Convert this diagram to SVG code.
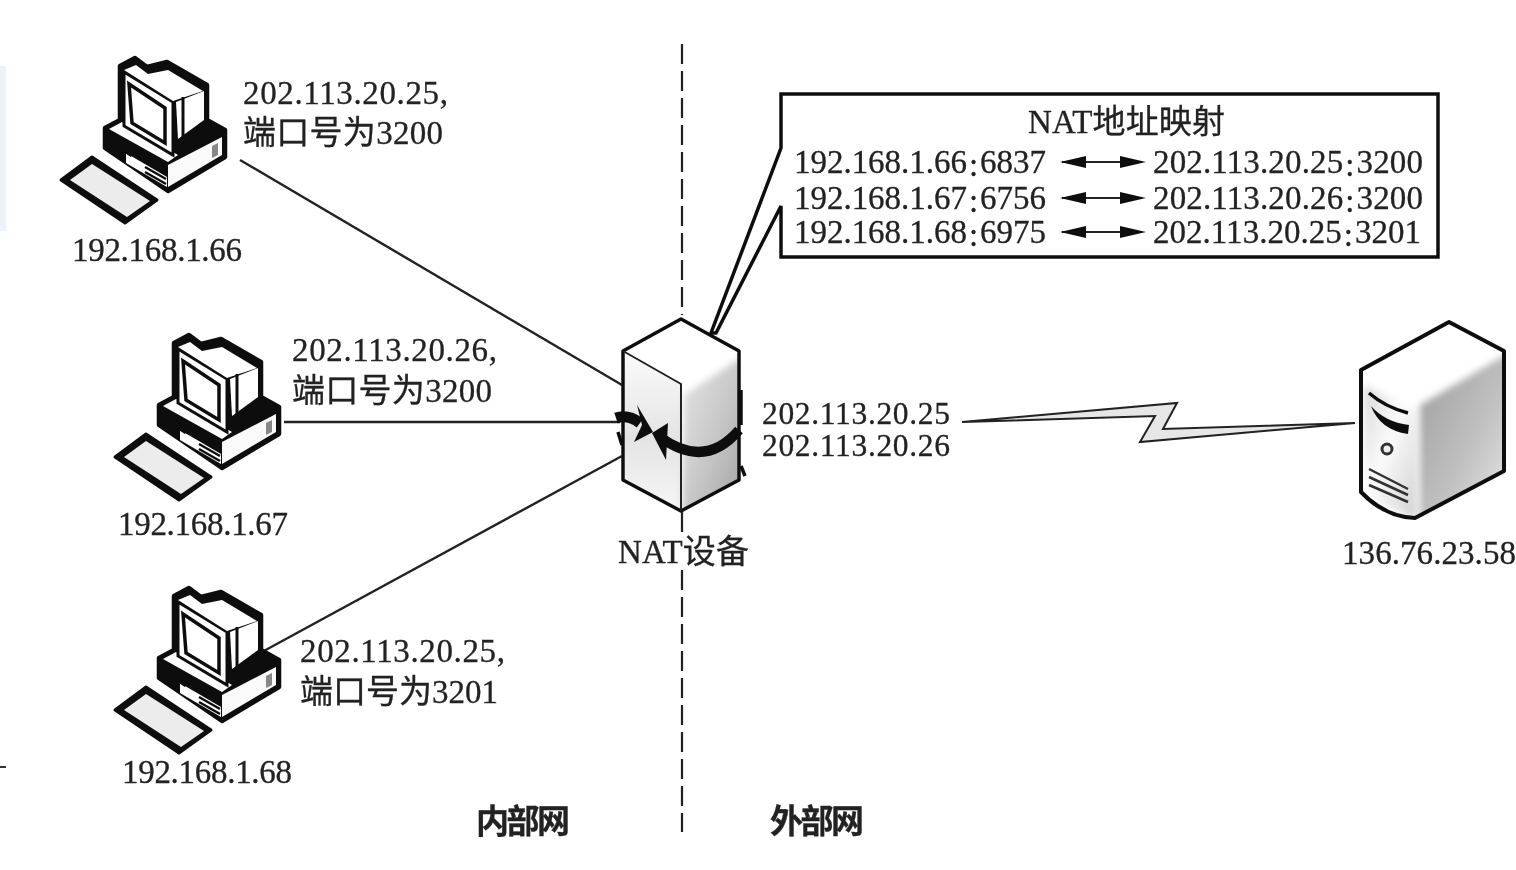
<svg xmlns="http://www.w3.org/2000/svg" width="1516" height="870" viewBox="0 0 1516 870">
<style>
text{font-family:"Liberation Serif","Noto Sans CJK SC",serif;font-size:33px;fill:#222;stroke:#222;stroke-width:.3}
.ln{fill:none;stroke:#222;stroke-width:2.4}
.wan{font-size:31.5px}
.b{font-weight:bold}
</style>
<defs>
<linearGradient id="gL" x1="0" y1="0" x2="1" y2="1"><stop offset="0" stop-color="#d8d8d8"/><stop offset=".45" stop-color="#fbfbfb"/><stop offset="1" stop-color="#cfcfcf"/></linearGradient>
<linearGradient id="gR" x1="0" y1="0" x2="1" y2="1"><stop offset="0" stop-color="#e6e6e6"/><stop offset=".5" stop-color="#c8c8c8"/><stop offset="1" stop-color="#9d9d9d"/></linearGradient>
<linearGradient id="gS" x1="0" y1="0" x2="1" y2="1"><stop offset="0" stop-color="#9c9c9c"/><stop offset=".55" stop-color="#c0c0c0"/><stop offset="1" stop-color="#ececec"/></linearGradient>
<linearGradient id="gF" x1="0" y1="0" x2="0" y2="1"><stop offset="0" stop-color="#fafafa"/><stop offset=".55" stop-color="#e4e4e4"/><stop offset="1" stop-color="#f6f6f6"/></linearGradient>
<filter id="soft" x="-5%" y="-5%" width="110%" height="110%"><feGaussianBlur stdDeviation="0.7"/></filter>
<filter id="wide" x="-20%" y="-20%" width="140%" height="140%"><feGaussianBlur stdDeviation="3.5"/></filter>
<clipPath id="natClip"><path d="M623 351L681 319L739 351V480L681 511L623 480Z"/></clipPath>
<clipPath id="srvClip"><path d="M1361 370L1449 322L1504 351L1504 471L1415 518Q1385 517 1361 492Z"/></clipPath>
<g id="pc">
<path fill="#111" stroke="#111" stroke-width="4.5" stroke-linejoin="round" d="M105 128V148L168 191L225 157V130L207 120V85L167 62L147 67L135 58L120 66V120Z"/>
<path d="M168 165L222 137V155L168 187Z" fill="#fafafa"/>
<path d="M212 146L218 143V155L212 158Z" fill="#888"/>
<path d="M109 129L122 122L178 155L168 162Z" fill="#fff"/>
<path d="M126 153L167 177V187L126 163Z" fill="#fff"/>
<path d="M130 150L124 146V151L130 155ZM145 167L166 179M145 172L166 184" fill="none" stroke="#111" stroke-width="2.5"/>
<path d="M124 72L173 102V155L124 126Z" fill="#fff" stroke="#111" stroke-width="3"/>
<path d="M129 84L165 108V143L132 123Z" fill="#fff" stroke="#111" stroke-width="3.5"/>
<path d="M124 70L136 65L148 74L168 70L203 91L173 101Z" fill="#fff"/>
<path d="M176 102L204 91V120L178 139Z" fill="#fff"/>
<path d="M183 97V138" stroke="#111" stroke-width="3"/>
<path d="M61 180L92 157L157 200L125 223Z" fill="#111" stroke="#111" stroke-width="3" stroke-linejoin="round"/>
<path d="M70 180L92 164L150 201L127 217Z" fill="#ececec"/>
</g>
</defs>
<g filter="url(#soft)">
<rect x="0" y="66" width="6" height="165" fill="#eef2f8"/>
<path d="M0 767H6" stroke="#333" stroke-width="2"/>
<g id="connectors">
<path class="ln" d="M240 160L622 385"/>
<path class="ln" d="M284 422H620"/>
<path class="ln" d="M262 652L622 456"/>
<path d="M962 422L1177 403L1163 429L1355 423L1140 442L1155 416Z" fill="#e6e6e6" stroke="#222" stroke-width="2" stroke-linejoin="miter"/>
<path d="M682 44V315M682 570V832" fill="none" stroke="#222" stroke-width="2.2" stroke-dasharray="20 7"/>
<path d="M682 511V532" fill="none" stroke="#222" stroke-width="2.2"/>
</g>
<g id="pc-66"><use href="#pc"/><text x="72" y="261" textLength="170">192.168.1.66</text></g>
<g id="pc-67"><use href="#pc" transform="translate(54 277)"/><text x="118" y="535" textLength="170">192.168.1.67</text></g>
<g id="pc-68"><use href="#pc" transform="translate(54 530)"/><text x="122" y="783" textLength="170">192.168.1.68</text></g>
<g id="label-1"><text x="243" y="104" textLength="205">202.113.20.25,</text><text x="243" y="144" textLength="200">端口号为3200</text></g>
<g id="label-2"><text x="292" y="361" textLength="205">202.113.20.26,</text><text x="292" y="402" textLength="200">端口号为3200</text></g>
<g id="label-3"><text x="300" y="662" textLength="205">202.113.20.25,</text><text x="300" y="703" textLength="198">端口号为3201</text></g>
<g id="nat-callout">
<path d="M781 94H1438V257H781V206L716 333L711 333L781 148Z" fill="#fff" stroke="#111" stroke-width="3.5" stroke-linejoin="miter"/>
<path d="M1062 162H1142M1062 198H1142M1062 232H1142" stroke="#222" stroke-width="2"/>
<path d="M1060 162l26 -6v12ZM1146 162l-26 -6v12ZM1060 198l26 -6v12ZM1146 198l-26 -6v12ZM1060 232l26 -6v12ZM1146 232l-26 -6v12Z" fill="#111"/>
<text x="1028" y="133" textLength="197">NAT地址映射</text>
<text x="794" y="173" textLength="252">192.168.1.66<tspan dx="2" dy="3">:</tspan><tspan dx="2" dy="-3">6837</tspan></text>
<text x="794" y="209" textLength="252">192.168.1.67<tspan dx="2" dy="3">:</tspan><tspan dx="2" dy="-3">6756</tspan></text>
<text x="794" y="243" textLength="252">192.168.1.68<tspan dx="2" dy="3">:</tspan><tspan dx="2" dy="-3">6975</tspan></text>
<text x="1153" y="173" textLength="270">202.113.20.25<tspan dx="2" dy="3">:</tspan><tspan dx="2" dy="-3">3200</tspan></text>
<text x="1153" y="209" textLength="270">202.113.20.26<tspan dx="2" dy="3">:</tspan><tspan dx="2" dy="-3">3200</tspan></text>
<text x="1153" y="243" textLength="268">202.113.20.25<tspan dx="2" dy="3">:</tspan><tspan dx="2" dy="-3">3201</tspan></text>
</g>
<g id="nat-device">
<path d="M623 351L681 319L739 351V480L681 511L623 480Z" fill="#fff"/>
<g clip-path="url(#natClip)">
<path d="M625 354L680 384V510L625 479Z" fill="url(#gF)"/>
<path d="M684 395L745 355V500L682 520Z" fill="url(#gR)" filter="url(#wide)"/>
</g>
<path d="M623 351L681 319L739 351V480L681 511L623 480Z" fill="none" stroke="#111" stroke-width="3.5" stroke-linejoin="round"/>
<path d="M623 351L681 384V511" fill="none" stroke="#222" stroke-width="2"/>
<path d="M616 418Q628 414 640 423" fill="none" stroke="#111" stroke-width="11"/>
<path d="M637 405L653 432L634 442L642 425Z" fill="#111"/>
<path d="M652 433L668 423L666 460Z" fill="#111"/>
<path d="M660 437Q705 470 739 430" fill="none" stroke="#111" stroke-width="10"/>
<path d="M741 390V425M618 432L622 445M741 466L745 476" fill="none" stroke="#111" stroke-width="3.5"/>
<text x="618" y="563" textLength="131">NAT设备</text>
</g>
<g id="wan-label"><text class="wan" x="762" y="424" textLength="188">202.113.20.25</text><text class="wan" x="762" y="456" textLength="188">202.113.20.26</text></g>
<g id="server">
<path d="M1361 370L1449 322L1504 351L1504 471L1415 518Q1385 517 1361 492Z" fill="#fff"/>
<g clip-path="url(#srvClip)">
<path d="M1364 385L1417 410V520L1364 495Z" fill="url(#gL)" filter="url(#wide)"/>
<path d="M1420 405L1510 352V475L1420 525Z" fill="url(#gS)" filter="url(#wide)"/>
</g>
<path d="M1361 370L1449 322L1504 351L1504 471L1415 518Q1385 517 1361 492Z" fill="none" stroke="#111" stroke-width="4" stroke-linejoin="round"/>
<path d="M1369 393Q1385 407 1408 413" fill="none" stroke="#111" stroke-width="3.5"/>
<path d="M1371 406Q1385 422 1409 425L1408 434Q1380 430 1371 406Z" fill="#111"/>
<circle cx="1387" cy="449" r="5" fill="#eee" stroke="#333" stroke-width="3"/>
<path d="M1369 469L1408 489M1369 477L1408 495M1369 485L1408 502" fill="none" stroke="#333" stroke-width="2.5"/>
<text x="1342" y="564" textLength="174">136.76.23.58</text>
</g>
<text class="b" x="476" y="833" textLength="94">内部网</text>
<text class="b" x="770" y="833" textLength="94">外部网</text>
</g>
</svg>
